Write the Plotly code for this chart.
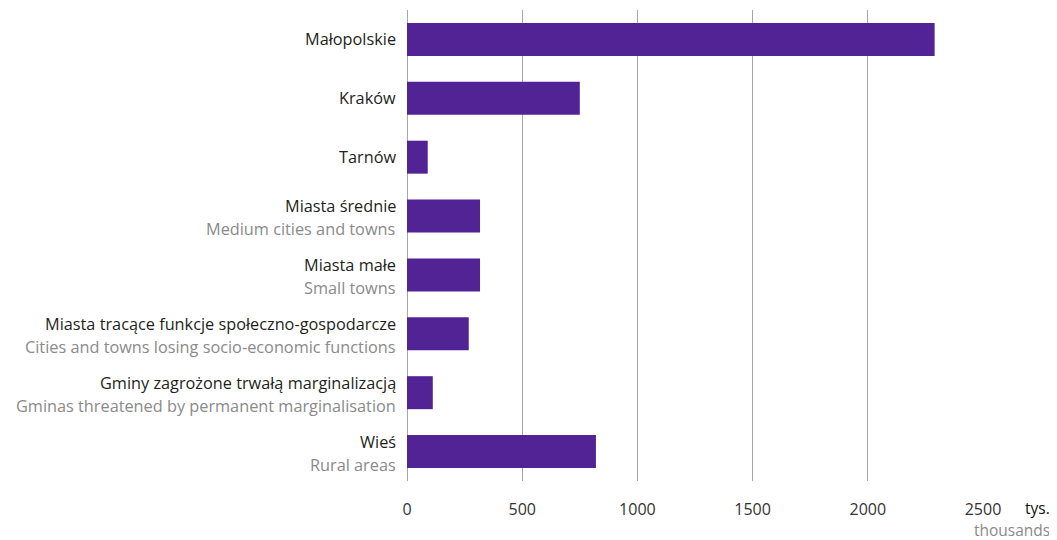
import plotly.graph_objects as go

categories = ["Małopolskie", "Kraków", "Tarnów", "Miasta średnie", "Miasta małe",
              "Miasta tracące funkcje społeczno-gospodarcze",
              "Gminy zagrożone trwałą marginalizacją", "Wieś"]
subtitles = ["", "", "", "Medium cities and towns", "Small towns",
             "Cities and towns losing socio-economic functions",
             "Gminas threatened by permanent marginalisation", "Rural areas"]
values = [2290, 750, 90, 317, 317, 268, 112, 820]
tick_vals = [0, 500, 1000, 1500, 2000, 2500]

FONT = "Open Sans"
BAR = "#512394"
GRID = "#a6a6a6"
LBL = 16.3

fig = go.Figure(go.Bar(
    y=categories, x=values, orientation="h",
    marker=dict(color=BAR, line=dict(width=0)),
    width=0.56, hoverinfo="skip",
))

for cat, sub in zip(categories, subtitles):
    if sub:
        fig.add_annotation(x=0, xref="paper", y=cat, yref="y", text=cat,
                           xanchor="right", yanchor="middle", xshift=-9, yshift=10,
                           showarrow=False, font=dict(family=FONT, size=LBL, color="#231f20"))
        fig.add_annotation(x=0, xref="paper", y=cat, yref="y", text=sub,
                           xanchor="right", yanchor="middle", xshift=-9, yshift=-13,
                           showarrow=False, font=dict(family=FONT, size=LBL, color="#8a8a8a"))
    else:
        fig.add_annotation(x=0, xref="paper", y=cat, yref="y", text=cat,
                           xanchor="right", yanchor="middle", xshift=-9, yshift=0,
                           showarrow=False, font=dict(family=FONT, size=LBL, color="#231f20"))

fig.add_annotation(x=1, xref="paper", y=0, yref="paper", text="tys.",
                   xanchor="right", yanchor="middle", xshift=69, yshift=-27,
                   showarrow=False, font=dict(family=FONT, size=15.5, color="#111111"))
fig.add_annotation(x=1, xref="paper", y=0, yref="paper", text="thousands",
                   xanchor="right", yanchor="middle", xshift=69, yshift=-49,
                   showarrow=False, font=dict(family=FONT, size=15.5, color="#8a8a8a"))

fig.update_layout(
    width=1049, height=532,
    margin=dict(l=399, r=74, t=2, b=59),
    paper_bgcolor="white", plot_bgcolor="white",
    showlegend=False, bargap=0.44,
    font=dict(family=FONT, size=16, color="#333333"),
    xaxis=dict(range=[0, 2500], tickvals=tick_vals, ticktext=[str(v) for v in tick_vals],
               showgrid=True, gridcolor=GRID, gridwidth=1,
               zeroline=True, zerolinecolor=GRID, zerolinewidth=1,
               showline=False, ticks="outside", ticklen=14, tickcolor="rgba(0,0,0,0)",
               tickfont=dict(family=FONT, size=16, color="#333333"), fixedrange=True),
    yaxis=dict(autorange="reversed", showticklabels=False, showgrid=False,
               zeroline=False, showline=False, fixedrange=True),
)

fig.write_html("out.html")
